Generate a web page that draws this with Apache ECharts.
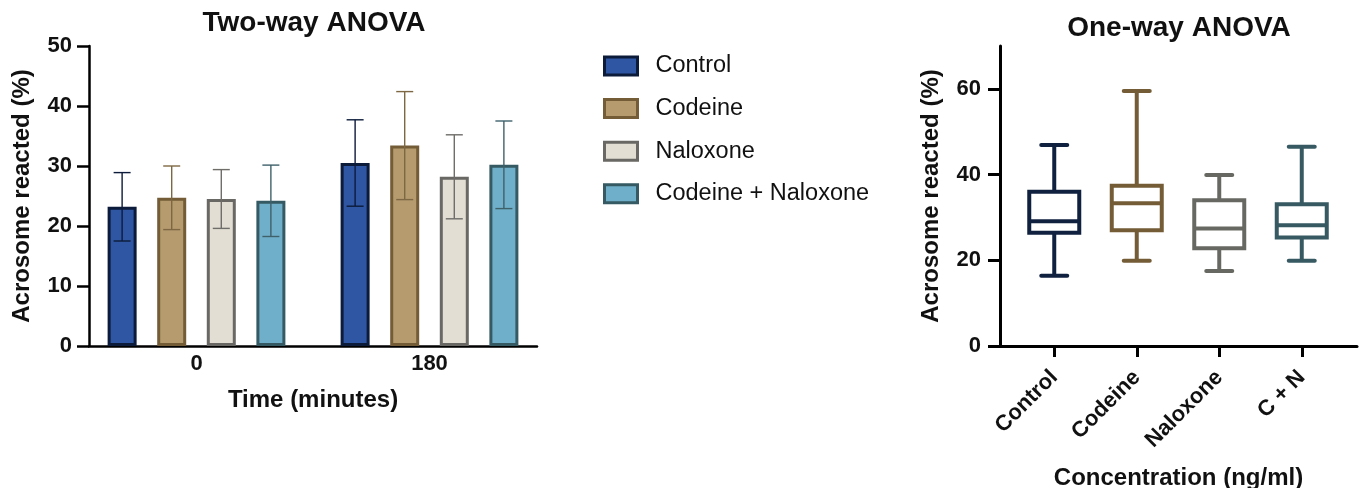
<!DOCTYPE html>
<html>
<head>
<meta charset="utf-8">
<script src="https://cdn.jsdelivr.net/npm/echarts@6/dist/echarts.min.js"></script>
<style>
  html, body { margin: 0; padding: 0; background: #fff; }
  #chart { width: 1366px; height: 488px; }
</style>
</head>
<body>
<div id="chart"></div>
<script>
// ---- Two-way ANOVA: acrosome reaction by time and treatment (mean ± SD) ----
const timeLabels = ['0', '180'];
const groupNames = ['Control', 'Codeine', 'Naloxone', 'Codeine + Naloxone'];
const meanControl = [23.2, 30.5];
const sdControl = [5.7, 7.2];
const meanCodeine = [24.7, 33.4];
const sdCodeine = [5.3, 9.0];
const meanNaloxone = [24.5, 28.2];
const sdNaloxone = [4.9, 7.0];
const meanCombined = [24.2, 30.2];
const sdCombined = [5.95, 7.3];
const leftTicks = [0, 10, 20, 30, 40, 50];

// ---- One-way ANOVA: box plots per treatment ----
const boxGroups = ['Control', 'Codeine', 'Naloxone', 'C + N'];
const boxMin = [16.4, 19.9, 17.5, 19.9];
const boxQ1 = [26.4, 27.0, 22.8, 25.3];
const boxMedian = [29.1, 33.3, 27.4, 28.2];
const boxQ3 = [36.0, 37.4, 34.0, 33.1];
const boxMax = [46.9, 59.5, 39.9, 46.5];
const rightTicks = [0, 20, 40, 60];

// palette
const barFill = ['#2F56A3', '#B59B6E', '#E2DED4', '#70AFC9'];
const barEdge = ['#0C1B3A', '#735C36', '#696864', '#355A63'];
const errColor = ['#0C1B3A', '#7D6843', '#6E6D69', '#3E616A'];
const boxColor = ['#0F213F', '#735C36', '#686863', '#365962'];

const FONT = '"Liberation Sans", Arial, Helvetica, sans-serif';
const INK = '#111';

const BAR_W = 29;
const BAR_GAP = 0.71;
const BAR_STEP = BAR_W * (1 + BAR_GAP);

const means = [meanControl, meanCodeine, meanNaloxone, meanCombined];
const sds = [sdControl, sdCodeine, sdNaloxone, sdCombined];

const barSeries = groupNames.map((name, i) => ({
  name: name,
  type: 'bar',
  xAxisIndex: 1,
  yAxisIndex: 1,
  barWidth: BAR_W,
  barGap: (BAR_GAP * 100) + '%',
  data: means[i],
  itemStyle: { color: barFill[i], borderColor: barEdge[i], borderWidth: 3 },
  z: 2
}));

const errorSeries = groupNames.map((name, i) => ({
  type: 'custom',
  xAxisIndex: 1,
  yAxisIndex: 1,
  z: 5,
  silent: true,
  data: means[i].map((m, k) => [k, m - sds[i][k], m + sds[i][k]]),
  encode: { x: 0, y: [1, 2] },
  renderItem: function (params, api) {
    const k = api.value(0);
    const lo = api.coord([k, api.value(1)]);
    const hi = api.coord([k, api.value(2)]);
    const x = lo[0] + (i - 1.5) * BAR_STEP;
    const half = 8.5;
    const style = { stroke: errColor[i], lineWidth: 1.4 };
    return {
      type: 'group',
      children: [
        { type: 'line', shape: { x1: x, y1: lo[1], x2: x, y2: hi[1] }, style: style },
        { type: 'line', shape: { x1: x - half, y1: hi[1], x2: x + half, y2: hi[1] }, style: style },
        { type: 'line', shape: { x1: x - half, y1: lo[1], x2: x + half, y2: lo[1] }, style: style }
      ]
    };
  }
}));

const boxSeries = {
  type: 'custom',
  xAxisIndex: 3,
  yAxisIndex: 3,
  silent: true,
  data: boxGroups.map((g, i) => [i, boxMin[i], boxQ1[i], boxMedian[i], boxQ3[i], boxMax[i]]),
  encode: { x: 0, y: [1, 2, 3, 4, 5] },
  renderItem: function (params, api) {
    const i = api.value(0);
    const pMin = api.coord([i, api.value(1)]);
    const pQ1 = api.coord([i, api.value(2)]);
    const pMed = api.coord([i, api.value(3)]);
    const pQ3 = api.coord([i, api.value(4)]);
    const pMax = api.coord([i, api.value(5)]);
    const x = pMin[0];
    const bw = 25;   // half box width
    const cw = 13;   // half cap width
    const c = boxColor[i];
    const st = { stroke: c, lineWidth: 4, fill: null };
    const cap = { stroke: c, lineWidth: 4, lineCap: 'round' };
    return {
      type: 'group',
      children: [
        { type: 'line', shape: { x1: x, y1: pMax[1], x2: x, y2: pQ3[1] }, style: st },
        { type: 'line', shape: { x1: x, y1: pQ1[1], x2: x, y2: pMin[1] }, style: st },
        { type: 'line', shape: { x1: x - cw, y1: pMax[1], x2: x + cw, y2: pMax[1] }, style: cap },
        { type: 'line', shape: { x1: x - cw, y1: pMin[1], x2: x + cw, y2: pMin[1] }, style: cap },
        { type: 'rect', shape: { x: x - bw, y: pQ3[1], width: bw * 2, height: pQ1[1] - pQ3[1] },
          style: { stroke: c, lineWidth: 4, fill: '#fff' } },
        { type: 'line', shape: { x1: x - bw, y1: pMed[1], x2: x + bw, y2: pMed[1] }, style: st }
      ]
    };
  }
};

const tickLabel = { fontFamily: FONT, fontWeight: 'bold', fontSize: 22, color: INK };
const axisName = { fontFamily: FONT, fontWeight: 'bold', fontSize: 24, color: INK };

const option = {
  backgroundColor: '#fff',
  animation: false,
  title: [
    { text: 'Two-way ANOVA', left: 309, top: 4, textAlign: 'center',
      textStyle: { fontFamily: FONT, fontWeight: 'bold', fontSize: 28, color: INK } },
    { text: 'One-way ANOVA', left: 1174, top: 9, textAlign: 'center',
      textStyle: { fontFamily: FONT, fontWeight: 'bold', fontSize: 28, color: INK } }
  ],
  legend: {
    orient: 'vertical',
    left: 598,
    top: 49,
    icon: 'rect',
    itemWidth: 33,
    itemHeight: 18,
    itemGap: 18.6,
    data: groupNames,
    itemStyle: { borderWidth: 3 },
    textStyle: { fontFamily: FONT, fontSize: 23.5, color: INK, padding: [0, 0, 0, 13] },
    selectedMode: false
  },
  grid: [
    { left: 89, top: 46, width: 448, height: 300, outerBoundsMode: 'none' },    // left frame
    { left: 80, top: 46, width: 466, height: 300, outerBoundsMode: 'none' },    // left bars
    { left: 1000, top: 46, width: 357, height: 300, outerBoundsMode: 'none' },  // right frame
    { left: 1013, top: 46, width: 330, height: 300, outerBoundsMode: 'none' }   // right boxes
  ],
  xAxis: [
    { gridIndex: 0, type: 'value', min: 0, max: 1,
      axisLine: { show: true, lineStyle: { color: '#000', width: 2.5 } },
      axisTick: { show: false }, axisLabel: { show: false }, splitLine: { show: false },
      name: 'Time (minutes)', nameLocation: 'middle', nameGap: 42, nameTextStyle: axisName },
    { gridIndex: 1, type: 'category', data: timeLabels,
      axisLine: { show: false }, axisTick: { show: false },
      axisLabel: Object.assign({ margin: 7 }, tickLabel) },
    { gridIndex: 2, type: 'value', min: 0, max: 1,
      axisLine: { show: true, lineStyle: { color: '#000', width: 3 } },
      axisTick: { show: false }, axisLabel: { show: false }, splitLine: { show: false },
      name: 'Concentration (ng/ml)', nameLocation: 'middle', nameGap: 120, nameTextStyle: axisName },
    { gridIndex: 3, type: 'category', data: boxGroups,
      axisLine: { show: false },
      axisTick: { show: true, alignWithLabel: true, length: 11, lineStyle: { color: '#000', width: 3 } },
      axisLabel: Object.assign({}, tickLabel, { fontSize: 22, rotate: 45, margin: 28 }) }
  ],
  yAxis: [
    { gridIndex: 0, type: 'value', min: leftTicks[0], max: leftTicks[leftTicks.length - 1],
      interval: leftTicks[1] - leftTicks[0],
      axisLine: { show: true, lineStyle: { color: '#000', width: 2.5 } },
      axisTick: { show: true, length: 12, lineStyle: { color: '#000', width: 2.5 } },
      axisLabel: Object.assign({ margin: 17 }, tickLabel),
      splitLine: { show: false },
      name: 'Acrosome reacted (%)', nameLocation: 'middle', nameRotate: 90, nameGap: 55,
      nameTextStyle: axisName },
    { gridIndex: 1, type: 'value', min: 0, max: 50, show: false },
    { gridIndex: 2, type: 'value', min: 0, max: 70,
      axisLine: { show: true, lineStyle: { color: '#000', width: 3 } },
      axisTick: { show: true, length: 12, customValues: rightTicks, lineStyle: { color: '#000', width: 3 } },
      axisLabel: Object.assign({ margin: 19, customValues: rightTicks }, tickLabel),
      splitLine: { show: false },
      name: 'Acrosome reacted (%)', nameLocation: 'middle', nameRotate: 90, nameGap: 57,
      nameTextStyle: axisName },
    { gridIndex: 3, type: 'value', min: 0, max: 70, show: false }
  ],
  series: barSeries.concat(errorSeries, [boxSeries])
};

const chart = echarts.init(document.getElementById('chart'), null, { renderer: 'canvas' });
chart.setOption(option);
</script>
</body>
</html>
